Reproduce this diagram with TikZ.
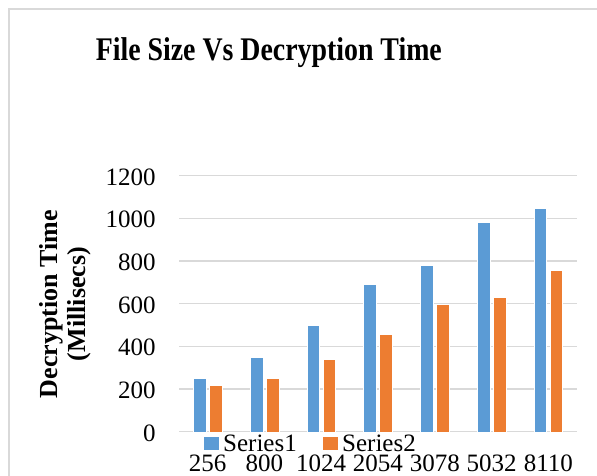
\documentclass[tikz,border=0pt]{standalone}
\usepackage{fontspec}
\setmainfont{Liberation Serif}
\usepackage{graphicx}
\definecolor{sone}{HTML}{5B9BD5}
\definecolor{stwo}{HTML}{ED7D31}
\definecolor{gridc}{HTML}{D9D9D9}
\begin{document}
\begin{tikzpicture}[x=1pt,y=-1pt,
  gridline/.style={gridc,line width=1.4pt},
  ticklabel/.style={font=\fontsize{25}{30}\selectfont,inner sep=0pt},
  axistitle/.style={font=\fontsize{26}{30}\selectfont\bfseries,inner sep=0pt,rotate=90,anchor=base},
  barone/.style={fill=sone,draw=white,line width=0.3pt},
  bartwo/.style={fill=stwo,draw=white,line width=0.3pt}]
\useasboundingbox (0,0) rectangle (597,475);
\fill[white] (0,0) rectangle (597,475);
% chart area frame
\draw[gridc,line width=1.5pt] (9,480) -- (9,9) -- (605,9);
% title
\node[anchor=base,inner sep=0pt] (title) at (268.8,60.7)
  {\resizebox{346pt}{\height}{\fontsize{33}{33}\selectfont\bfseries File Size Vs Decryption Time}};
% horizontal gridlines and value labels
\foreach \v [count=\k] in {0,200,...,1200} {
  \draw[gridline] (179.3,{431.7-\v*0.21333}) -- (576.7,{431.7-\v*0.21333});
  \node[ticklabel,anchor=base east] (y\k) at (155.7,{441-\v*0.21333}) {\v};
}
% bars and category labels
\foreach \lab/\a/\b [count=\i from 0] in
  {256/250/220, 800/350/250, 1024/500/340, 2054/690/455,
   3078/780/600, 5032/980/630, 8110/1050/755} {
  \pgfmathsetmacro\c{179.3+56.77*(\i+0.5)}
  \path[barone] ({\c-14.4},431.7) rectangle ({\c-1.7},{431.7-\a*0.21333});
  \path[bartwo] ({\c+1.6},431.7) rectangle ({\c+14.3},{431.7-\b*0.21333});
  \node[ticklabel,anchor=base] (x\i) at (\c,471.7) {\lab};
}
% axis title
\node[axistitle] (ytitle) at (57.5,304) {Decryption Time};
\node[axistitle] (yunit) at (85.5,304) {(Millisecs)};
% legend
\fill[sone] (204,437.3) rectangle (218.5,450.3);
\node[ticklabel,anchor=base west] (leg1) at (223,451) {Series1};
\fill[stwo] (323,437.3) rectangle (337.5,450.3);
\node[ticklabel,anchor=base west] (leg2) at (342,451) {Series2};
\end{tikzpicture}
\end{document}
